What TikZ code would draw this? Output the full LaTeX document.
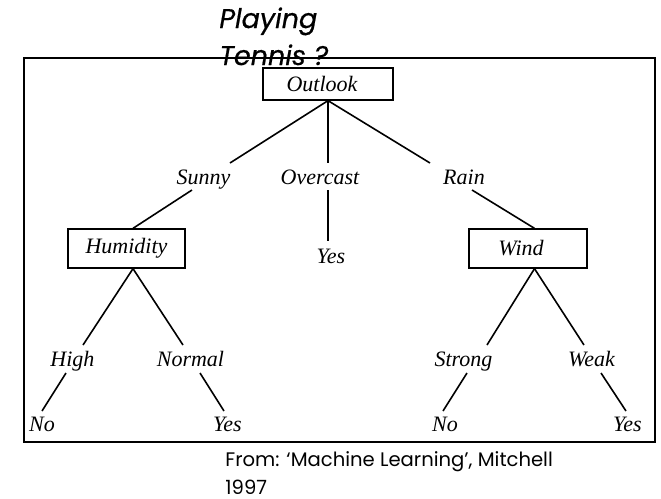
\documentclass[tikz,border=0pt]{standalone}
\usepackage{fontspec}
\setmainfont{Liberation Serif}
\newfontfamily\headfont[FakeBold=0.6]{Poppins}
\newfontfamily\notefont{Poppins}

\begin{document}
\begin{tikzpicture}[x=0.5pt,y=-0.5pt,
  lbl/.style={font=\itshape\fontsize{11}{13}\selectfont, inner sep=0pt, anchor=base},
  testbox/.style={draw, line width=0.65pt, font=\itshape\fontsize{11}{13}\selectfont,
                  inner sep=0pt, minimum height=19.5pt},
  branch/.style={line width=0.8pt}]

\useasboundingbox (0,0) rectangle (661,499);

% outer frame
\draw[line width=1pt] (24,58) rectangle (655,442);

% title above the frame (base anchor = baseline of the last line)
\node[font=\headfont\itshape\fontsize{13.5}{18.5}\selectfont, anchor=base west, align=left,
      inner sep=0pt] (title) at (219,65) {Playing\\Tennis ?};

% attribute tests
\node[testbox, minimum width=65pt, minimum height=16pt] (outlook) at (328,84) {Outlook\hspace*{6pt}};
\node[testbox, minimum width=58.5pt] (humidity) at (126.5,248.5) {Humidity};
\node[testbox, minimum width=59pt] (wind) at (528,248.5) {Wind\hspace*{7pt}};

% branch values and leaves
\node[lbl] (sunny)    at (203.5,184) {Sunny};
\node[lbl] (overcast) at (320,184)   {Overcast};
\node[lbl] (rain)     at (464,184)   {Rain};
\node[lbl] (yesA)     at (331,263)   {Yes};
\node[lbl] (high)     at (72.5,366)  {High};
\node[lbl] (normal)   at (190.5,366) {Normal};
\node[lbl] (strong)   at (463.5,366) {Strong};
\node[lbl] (weak)     at (591.5,366) {Weak};
\node[lbl] (noA)      at (42,431)    {No};
\node[lbl] (yesB)     at (227.5,431) {Yes};
\node[lbl] (noB)      at (445,431)   {No};
\node[lbl] (yesC)     at (627.5,431) {Yes};

% branches
\draw[branch] (outlook.south) -- ([shift={(26.5,-21)}]sunny.base);
\draw[branch] (outlook.south) -- ([shift={(8,-21)}]overcast.base);
\draw[branch] (outlook.south) -- ([shift={(-34,-21)}]rain.base);
\draw[branch] ([shift={(-11.5,6)}]sunny.base) -- ([shift={(6.5,0)}]humidity.north);
\draw[branch] ([shift={(8,6)}]overcast.base) -- ([shift={(-3,-22)}]yesA.base);
\draw[branch] ([shift={(8,6)}]rain.base) -- ([shift={(6.5,0)}]wind.north);
\draw[branch] ([shift={(6.5,0)}]humidity.south) -- ([shift={(10.5,-21)}]high.base);
\draw[branch] ([shift={(6.5,0)}]humidity.south) -- ([shift={(-7.5,-21)}]normal.base);
\draw[branch] ([shift={(-6.5,7)}]high.base) -- ([shift={(0,-20)}]noA.base);
\draw[branch] ([shift={(9.5,7)}]normal.base) -- ([shift={(-3.5,-20)}]yesB.base);
\draw[branch] ([shift={(6.5,0)}]wind.south) -- ([shift={(23.5,-21)}]strong.base);
\draw[branch] ([shift={(6.5,0)}]wind.south) -- ([shift={(-7.5,-21)}]weak.base);
\draw[branch] ([shift={(3.5,7)}]strong.base) -- ([shift={(-2,-20)}]noB.base);
\draw[branch] ([shift={(9.5,7)}]weak.base) -- ([shift={(-1.5,-20)}]yesC.base);

% source note (base anchor = baseline of the last line)
\node[font=\notefont\fontsize{9.8}{14}\selectfont, anchor=base west, align=left,
      inner sep=0pt] (source) at (225,494) {From: ‘Machine Learning’, Mitchell\\1997};

\end{tikzpicture}
\end{document}
